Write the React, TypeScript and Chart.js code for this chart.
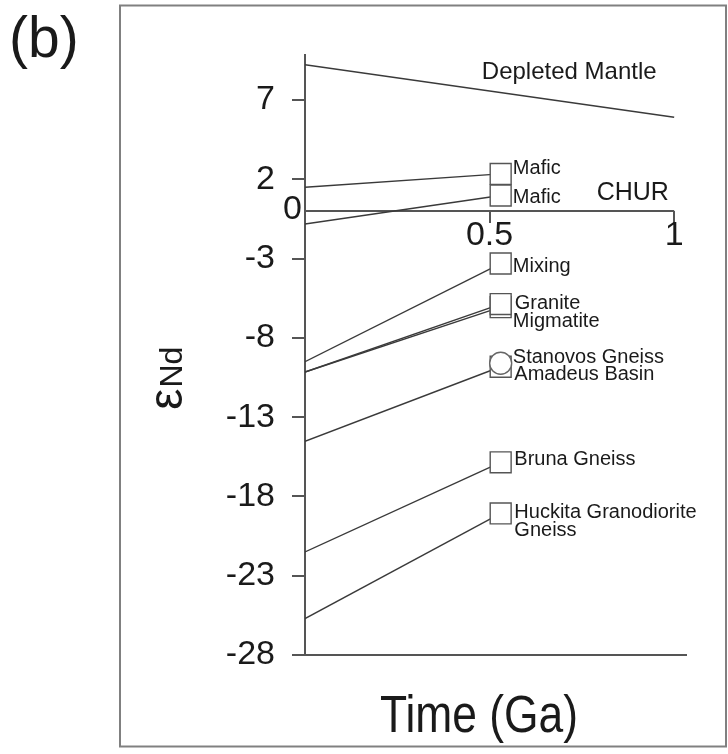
import React, { useEffect, useRef } from "react";
import { Chart, registerables } from "chart.js";

Chart.register(...registerables);

// ---- data (time in Ga, epsilon Nd) ----
const sampleNames = ["Mafic", "Mafic", "Mixing", "Granite", "Migmatite", "Amadeus Basin", "Bruna Gneiss", "Huckita Granodiorite Gneiss"];
const startTime = 0;
const sampleTime = 0.53;
const epsAtStart = [1.5, -0.82, -9.5, -10.15, -10.15, -14.52, -21.5, -25.7];
const epsAtSample = [2.34, 0.98, -3.31, -5.87, -6.06, -9.82, -15.85, -19.07];
const stanovosTime = 0.53;
const stanovosEps = -9.6;
const dmTime = [0, 1];
const dmEps = [9.22, 5.92];
const churTime = [0, 1];
const churEps = [0, 0];
const yTickValues = [7, 2, -3, -8, -13, -18, -23, -28];
const xTickValues = [0.5, 1];

// annotation texts anchored in data coordinates (time, epsilon) – left/baseline
const annoText = ["Depleted Mantle", "CHUR", "Mafic", "Mafic", "Mixing", "Granite", "Migmatite", "Stanovos Gneiss", "Amadeus Basin", "Bruna Gneiss", "Huckita Granodiorite", "Gneiss"];
const annoTime = [0.479, 0.79, 0.563, 0.563, 0.563, 0.568, 0.563, 0.563, 0.567, 0.567, 0.567, 0.567];
const annoEps = [8.33, 0.69, 2.32, 0.52, -3.87, -6.19, -7.34, -9.61, -10.67, -16.04, -19.34, -20.52];

const FONT = "'Liberation Sans', Arial, Helvetica, sans-serif";
const LINE = "#3a3a3a";
const AXIS = "#555555";
const TEXT = "#1a1a1a";

const decorPlugin = {
  id: "decor",
  beforeDraw(chart: any) {
    const ctx = chart.ctx;
    ctx.save();
    ctx.fillStyle = "#ffffff";
    ctx.fillRect(0, 0, chart.width, chart.height);
    ctx.restore();
  },
  afterDraw(chart: any) {
    const ctx = chart.ctx;
    const xs = chart.scales.x;
    const ys = chart.scales.y;
    ctx.save();
    // frame
    ctx.strokeStyle = "#808080";
    ctx.lineWidth = 2;
    ctx.strokeRect(120, 5.5, 606, 741);
    ctx.fillStyle = TEXT;
    // panel label
    ctx.font = `57px ${FONT}`;
    ctx.textAlign = "left";
    ctx.textBaseline = "alphabetic";
    ctx.fillText("(b)", 9, 57);
    // zero label of y axis
    ctx.font = `34px ${FONT}`;
    ctx.textAlign = "right";
    ctx.textBaseline = "middle";
    ctx.fillText("0", 302, ys.getPixelForValue(0) - 1);
    // y title epsilon Nd
    ctx.save();
    ctx.translate(182, 410);
    ctx.rotate(-Math.PI / 2);
    ctx.textAlign = "left";
    ctx.textBaseline = "alphabetic";
    ctx.font = `48px ${FONT}`;
    ctx.fillText("ε", 0, 0);
    const w = ctx.measureText("ε").width;
    ctx.font = `32px ${FONT}`;
    ctx.fillText("Nd", w + 1, 0);
    ctx.restore();
    // x title
    ctx.save();
    ctx.translate(479, 732);
    ctx.scale(0.87, 1);
    ctx.font = `51px ${FONT}`;
    ctx.textAlign = "center";
    ctx.textBaseline = "alphabetic";
    ctx.fillText("Time (Ga)", 0, 0);
    ctx.restore();
    // annotations
    ctx.textAlign = "left";
    ctx.textBaseline = "alphabetic";
    annoText.forEach((t, i) => {
      const size = i === 0 ? 24 : i === 1 ? 25 : 20;
      ctx.font = `${size}px ${FONT}`;
      ctx.fillText(t, xs.getPixelForValue(annoTime[i]), ys.getPixelForValue(annoEps[i]));
    });
    ctx.restore();
  },
};

export default function App() {
  const ref = useRef<HTMLCanvasElement | null>(null);
  useEffect(() => {
    if (!ref.current) return;
    const lineStyle = {
      showLine: true,
      borderColor: LINE,
      borderWidth: 1.4,
      pointStyle: "rect",
      pointBackgroundColor: "#ffffff",
      pointBorderColor: "#555555",
      pointBorderWidth: 1.4,
    };
    const datasets: any[] = [];
    datasets.push({
      label: "Stanovos Gneiss",
      data: [{ x: stanovosTime, y: stanovosEps }],
      showLine: false,
      pointStyle: "circle",
      pointRadius: 11,
      pointBackgroundColor: "#ffffff",
      pointBorderColor: "#666666",
      pointBorderWidth: 1.4,
    });
    sampleNames.forEach((name, i) => {
      datasets.push({
        ...lineStyle,
        label: name,
        data: [
          { x: startTime, y: epsAtStart[i] },
          { x: sampleTime, y: epsAtSample[i] },
        ],
        pointRadius: [0, 14.8],
      });
    });
    datasets.push({
      label: "Depleted Mantle",
      data: dmTime.map((t, i) => ({ x: t, y: dmEps[i] })),
      showLine: true,
      borderColor: LINE,
      borderWidth: 1.5,
      pointRadius: 0,
    });
    datasets.push({
      label: "CHUR",
      data: churTime.map((t, i) => ({ x: t, y: churEps[i] })),
      showLine: true,
      borderColor: AXIS,
      borderWidth: 2,
      pointRadius: 0,
    });

    const chart = new Chart(ref.current, {
      type: "scatter",
      data: { datasets },
      options: {
        animation: false,
        responsive: false,
        devicePixelRatio: 1,
        layout: { padding: { left: 225, top: 55, right: 42, bottom: 99 } },
        plugins: { legend: { display: false }, tooltip: { enabled: false } },
        scales: {
          x: {
            type: "linear",
            position: "bottom",
            min: 0,
            max: 1.032,
            ticks: { display: false },
            grid: { drawOnChartArea: false, drawTicks: false },
            border: { display: true, color: AXIS, width: 2 },
            afterFit: (s: any) => {
              s.height = 0;
            },
          },
          x2: {
            type: "linear",
            axis: "x",
            position: { y: 0 },
            min: 0,
            max: 1.032,
            afterBuildTicks: (s: any) => {
              s.ticks = xTickValues.map((v) => ({ value: v }));
            },
            ticks: {
              color: TEXT,
              font: { family: FONT, size: 34 },
              padding: -8,
              maxRotation: 0,
              autoSkip: false,
              callback: (v: any) => String(v),
            },
            grid: { drawOnChartArea: false, drawTicks: true, tickLength: 12, color: AXIS, lineWidth: 2 },
            border: { display: false },
          },
          y: {
            type: "linear",
            position: "left",
            min: -28,
            max: 9.84,
            afterBuildTicks: (s: any) => {
              s.ticks = yTickValues.map((v) => ({ value: v }));
            },
            ticks: {
              color: TEXT,
              font: { family: FONT, size: 34 },
              padding: 17,
              autoSkip: false,
              callback: (v: any) => String(v),
            },
            grid: { drawOnChartArea: false, drawTicks: true, tickLength: 13, color: AXIS, lineWidth: 2 },
            border: { display: true, color: AXIS, width: 2 },
            afterFit: (s: any) => {
              s.width = 80;
            },
          },
        },
      } as any,
      plugins: [decorPlugin],
    });
    return () => chart.destroy();
  }, []);

  return (
    <div style={{ position: "absolute", left: 0, top: 0, width: 728, height: 754, background: "#fff" }}>
      <canvas ref={ref} width={728} height={754} style={{ display: "block" }} />
    </div>
  );
}
